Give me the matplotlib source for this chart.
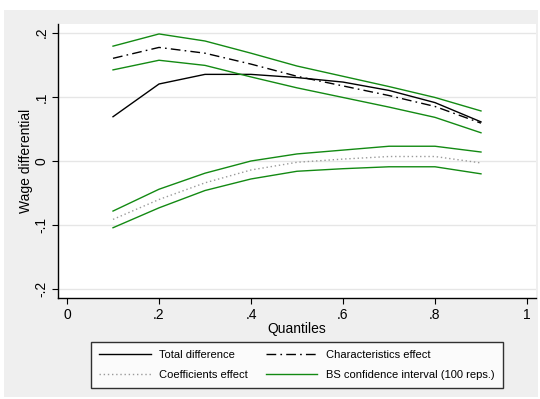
import matplotlib
matplotlib.use("Agg")
import matplotlib.pyplot as plt
from matplotlib.patches import Rectangle

plt.rcParams['font.family'] = ['Liberation Sans', 'DejaVu Sans']

quantiles = [0.1, 0.2, 0.3, 0.4, 0.5, 0.6, 0.7, 0.8, 0.9]
total_diff = [0.069, 0.120, 0.135, 0.135, 0.130, 0.123, 0.110, 0.091, 0.061]
charact_eff = [0.160, 0.177, 0.168, 0.151, 0.132, 0.117, 0.102, 0.085, 0.059]
coef_eff = [-0.091, -0.060, -0.034, -0.014, -0.002, 0.003, 0.007, 0.007, -0.003]
char_ci_hi = [0.179, 0.198, 0.187, 0.168, 0.148, 0.132, 0.116, 0.099, 0.078]
char_ci_lo = [0.142, 0.157, 0.149, 0.131, 0.114, 0.099, 0.084, 0.068, 0.044]
coef_ci_hi = [-0.078, -0.044, -0.019, 0.000, 0.011, 0.017, 0.023, 0.023, 0.014]
coef_ci_lo = [-0.104, -0.073, -0.046, -0.028, -0.016, -0.012, -0.009, -0.009, -0.020]

xticks = [0, 0.2, 0.4, 0.6, 0.8, 1.0]
xticklabels = ["0", ".2", ".4", ".6", ".8", "1"]
yticks = [-0.2, -0.1, 0, 0.1, 0.2]
yticklabels = ["-.2", "-.1", "0", ".1", ".2"]

W, H = 540, 399
fig = plt.figure(figsize=(W / 100, H / 100), dpi=100)
fig.patch.set_facecolor('white')
fig.patches.append(Rectangle((4 / W, 1 - 397 / H), (538 - 4) / W, (397 - 10) / H,
                             transform=fig.transFigure, facecolor='#efefef',
                             edgecolor='none', zorder=-10))

ax = fig.add_axes([58 / W, 1 - 298 / H, (536 - 58) / W, (298 - 24) / H])
ax.set_facecolor('white')

green = '#138a13'
ax.plot(quantiles, total_diff, color='black', lw=1.0, label='Total difference')
ax.plot(quantiles, charact_eff, color='black', lw=1.0, dashes=(7, 3, 1.2, 3),
        label='Characteristics effect')
ax.plot(quantiles, coef_eff, color='#9a9a9a', lw=1.0, dashes=(1, 2),
        label='Coefficients effect')
ax.plot(quantiles, char_ci_hi, color=green, lw=1.0, label='BS confidence interval (100 reps.)')
ax.plot(quantiles, char_ci_lo, color=green, lw=1.0)
ax.plot(quantiles, coef_ci_hi, color=green, lw=1.0)
ax.plot(quantiles, coef_ci_lo, color=green, lw=1.0)

ax.set_xlim(-0.0196, 1.0196)
ax.set_ylim(-0.2135, 0.2135)
ax.set_xticks(xticks)
ax.set_xticklabels(xticklabels, fontsize=10)
ax.set_yticks(yticks)
ax.set_yticklabels(yticklabels, fontsize=10, rotation=90, va='center')
ax.tick_params(direction='out', length=4, width=0.8, color='black', pad=3)
ax.grid(axis='y', color='#e6e6e6', lw=1.0)
ax.set_axisbelow(True)
for s in ['top', 'right']:
    ax.spines[s].set_visible(False)
for s in ['left', 'bottom']:
    ax.spines[s].set_linewidth(1.0)
    ax.spines[s].set_color('black')

ax.set_xlabel('Quantiles', fontsize=10, labelpad=0)
ax.set_ylabel('Wage differential', fontsize=10, labelpad=1)

handles, labels = ax.get_legend_handles_labels()
order = [0, 2, 1, 3]
leg = fig.legend([handles[i] for i in order], [labels[i] for i in order], ncol=2,
                 loc='center', bbox_to_anchor=(297 / W, 1 - 365 / H),
                 fontsize=8, frameon=True, fancybox=False, handlelength=4.6,
                 handletextpad=0.8, columnspacing=1.6, borderpad=0.75,
                 labelspacing=0.85)
leg.get_frame().set_edgecolor('black')
leg.get_frame().set_linewidth(1.0)
leg.get_frame().set_facecolor('white')

fig.savefig('out.png', dpi=100)
